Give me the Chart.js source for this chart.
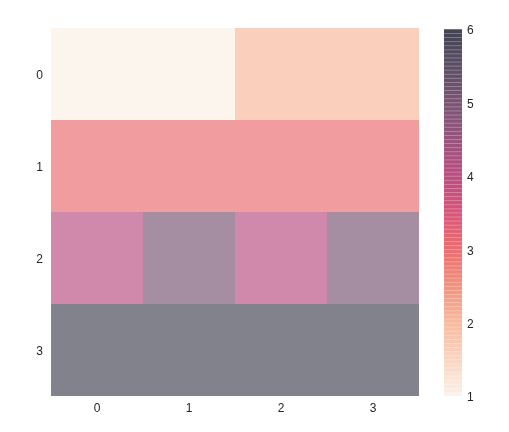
<!DOCTYPE html>
<html>
<head>
<meta charset="utf-8">
<script src="https://cdn.jsdelivr.net/npm/chart.js@4"></script>
<style>
  body { margin: 0; background: #fff; }
  #wrap { position: relative; width: 509px; height: 432px; }
  canvas { position: absolute; top: 0; }
</style>
</head>
<body>
<div id="wrap">
  <canvas id="heat" width="430" height="432" style="left:0"></canvas>
  <canvas id="cbar" width="79" height="432" style="left:430px"></canvas>
</div>
<script>
// heatmap data
var xLabels = ["0", "1", "2", "3"];
var yLabels = ["0", "1", "2", "3"];
var row0 = [1, 1, 2, 2];
var row1 = [3, 3, 3, 3];
var row2 = [4, 5, 4, 5];
var row3 = [6, 6, 6, 6];
var rows = [row0, row1, row2, row3];

var vmin = 1, vmax = 6;
var cbTicks = [1, 2, 3, 4, 5, 6];

// rocket colormap stops (reversed when used)
var rocket = ["#03051A", "#231331", "#4B1B45", "#731C53", "#A31357", "#CB1B4F",
              "#E33B41", "#EE6A50", "#F5A17B", "#F7C6AB", "#FAEBDD"];

function hex(h) {
    return [parseInt(h.substr(1, 2), 16), parseInt(h.substr(3, 2), 16), parseInt(h.substr(5, 2), 16)];
}

function cmap(v, alpha) {
    var t = 1 - (v - vmin) / (vmax - vmin); // rocket_r
    t = Math.max(0, Math.min(1, t));
    var p = t * (rocket.length - 1);
    var i = Math.min(Math.floor(p), rocket.length - 2);
    var f = p - i;
    var a = hex(rocket[i]), b = hex(rocket[i + 1]);
    var c = a.map(function(x, k) { return Math.round(x + (b[k] - x) * f); });
    return "rgba(" + c[0] + "," + c[1] + "," + c[2] + "," + alpha + ")";
}

var tickFont = { family: "'Liberation Sans', Arial, sans-serif", size: 12 };
var tickColor = "#262626";

// one dataset per row, floating bars spanning the row's band
var heatSets = rows.map(function(r, ri) {
    return {
        data: r.map(function() { return [ri - 0.5, ri + 0.5]; }),
        backgroundColor: r.map(function(v) { return cmap(v, 0.5); }),
        borderWidth: 0,
        inflateAmount: 0,
        barPercentage: 1,
        categoryPercentage: 1
    };
});

new Chart(document.getElementById("heat"), {
    type: "bar",
    data: { labels: xLabels, datasets: heatSets },
    options: {
        responsive: false,
        animation: false,
        layout: { padding: { top: 28, right: 11, left: 0, bottom: 0 } },
        plugins: { legend: { display: false }, tooltip: { enabled: false } },
        scales: {
            x: {
                stacked: true,
                grid: { display: false, drawTicks: false },
                border: { display: false },
                ticks: { color: tickColor, font: tickFont, padding: 5 },
                afterFit: function(s) { s.height = 36; }
            },
            y: {
                type: "linear",
                reverse: true,
                min: -0.5,
                max: 3.5,
                grid: { display: false, drawTicks: false },
                border: { display: false },
                afterBuildTicks: function(s) {
                    s.ticks = yLabels.map(function(l, i) { return { value: i }; });
                },
                ticks: {
                    color: tickColor, font: tickFont, padding: 8, labelOffset: 2,
                    callback: function(v) { return yLabels[v]; }
                },
                afterFit: function(s) { s.width = 51; }
            }
        }
    }
});

// colorbar: many thin translucent slices, overlapping like matplotlib draws them
var nSeg = 90;
var step = (vmax - vmin) / nSeg;
var cbSets = [];
for (var k = 0; k < nSeg; k++) {
    var lo = vmin + k * step;
    cbSets.push({
        data: [[lo, Math.min(vmax, lo + step * 1.8)]],
        backgroundColor: cmap(lo + step / 2, 0.5),
        borderWidth: 0,
        inflateAmount: 0,
        barPercentage: 1,
        categoryPercentage: 1
    });
}

new Chart(document.getElementById("cbar"), {
    type: "bar",
    data: { labels: [""], datasets: cbSets },
    options: {
        responsive: false,
        animation: false,
        layout: { padding: { top: 29, bottom: 36, left: 14, right: 0 } },
        plugins: { legend: { display: false }, tooltip: { enabled: false } },
        scales: {
            x: { display: false, stacked: true },
            y: {
                position: "right",
                min: vmin,
                max: vmax,
                grid: { display: false, drawTicks: false },
                border: { display: false },
                afterBuildTicks: function(s) {
                    s.ticks = cbTicks.map(function(v) { return { value: v }; });
                },
                ticks: { color: tickColor, font: tickFont, padding: 5, labelOffset: 2 },
                afterFit: function(s) { s.width = 47; }
            }
        }
    }
});
</script>
</body>
</html>
